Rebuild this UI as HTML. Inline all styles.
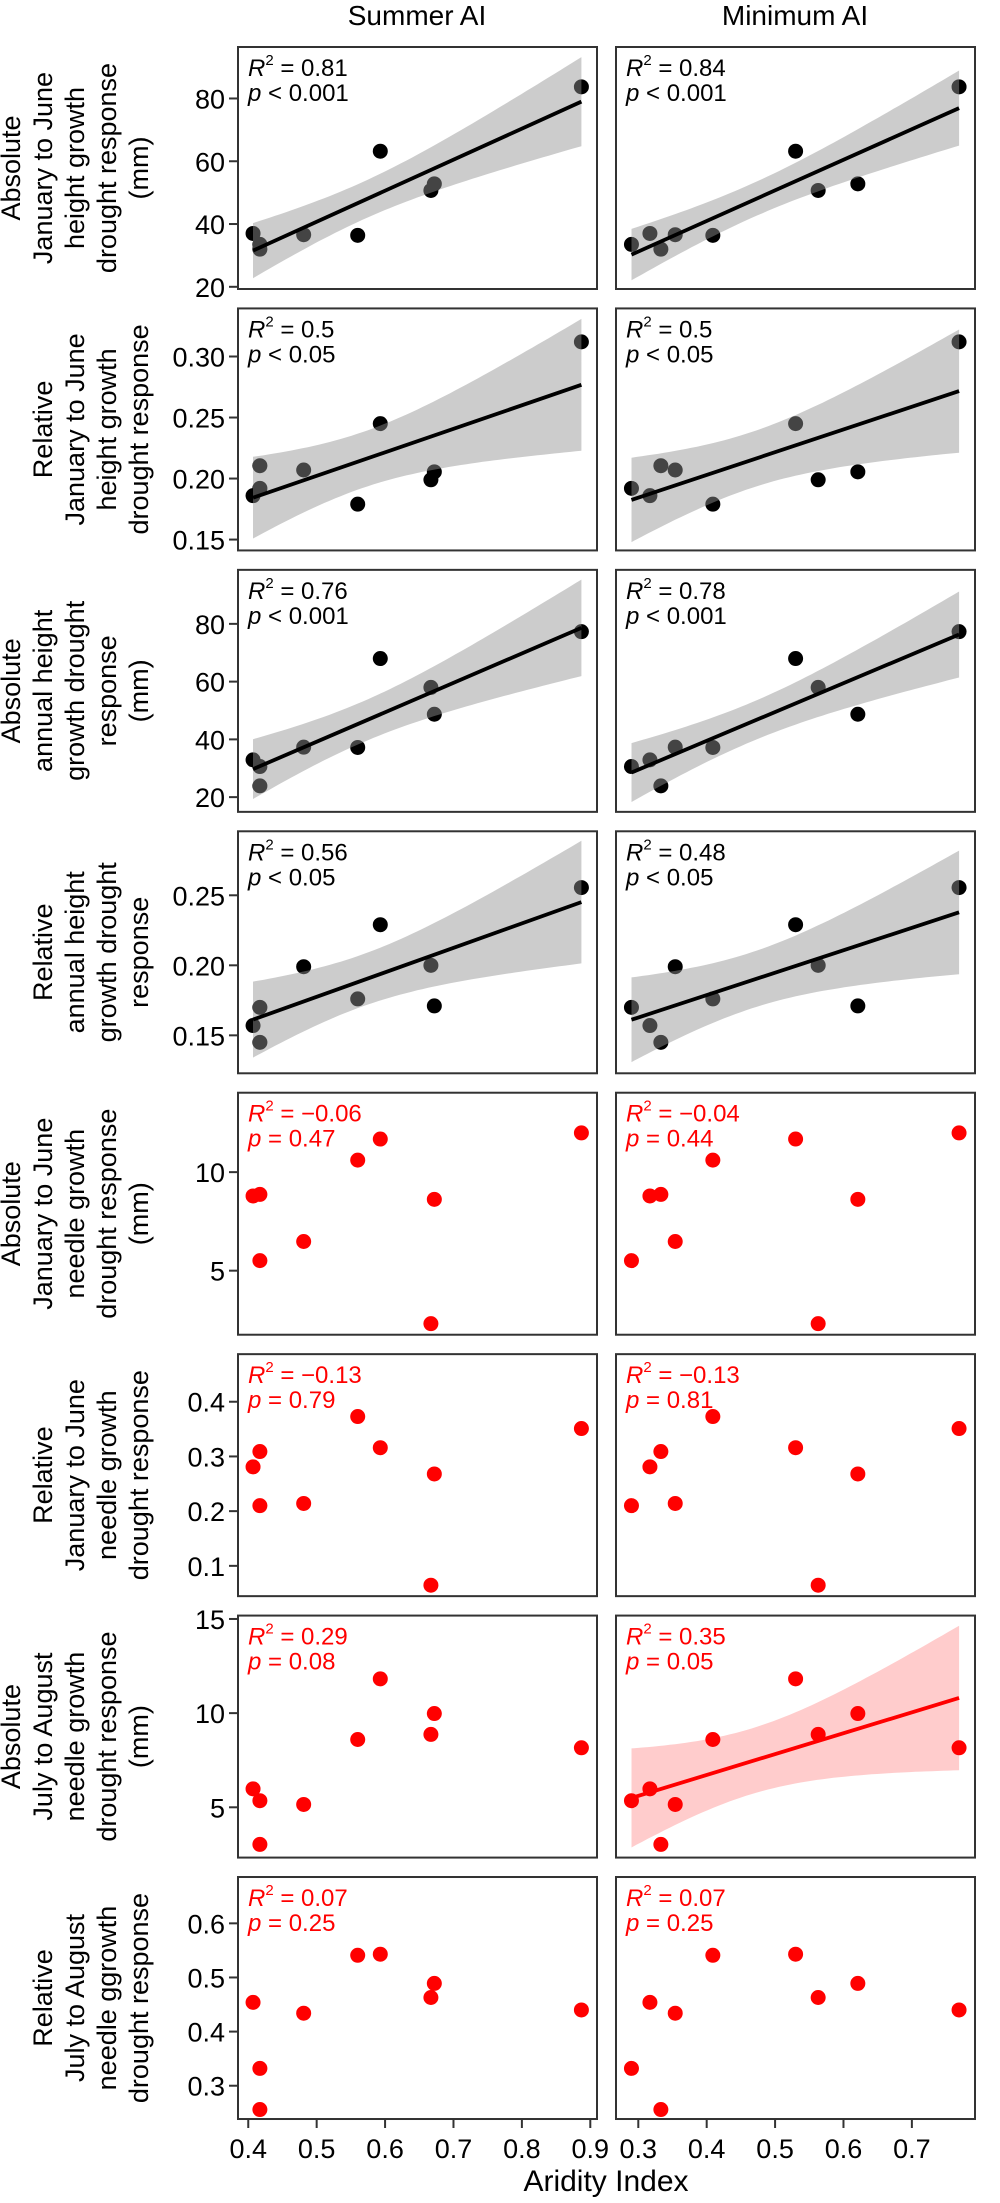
<!DOCTYPE html>
<html><head><meta charset="utf-8"><style>
html,body{margin:0;padding:0;background:#fff;}
svg{display:block;font-family:"Liberation Sans",Arial,sans-serif;}
</style></head><body>
<svg id="chart" width="1000" height="2203" viewBox="0 0 1000 2203" xmlns="http://www.w3.org/2000/svg">
<text x="417" y="25" font-size="28" text-anchor="middle">Summer AI</text>
<text x="795" y="25" font-size="28" text-anchor="middle">Minimum AI</text>
<text x="606" y="2191" font-size="30" text-anchor="middle">Aridity Index</text>
</svg>
<script>
// site aridity indices
const summerAI=[0.407,0.417,0.417,0.481,0.560,0.593,0.667,0.672,0.887];
const minimumAI=[0.317,0.290,0.333,0.354,0.409,0.530,0.563,0.621,0.769];
// responses per row
const absJanJunHeight=[37.0,33.5,32.0,36.6,36.4,63.2,50.7,52.8,83.7];
const relJanJunHeight=[0.186,0.192,0.2105,0.207,0.179,0.245,0.199,0.2055,0.312];
const absAnnualHeight=[32.9,30.6,23.9,37.3,37.2,68.0,58.0,48.7,77.3];
const relAnnualHeight=[0.157,0.170,0.145,0.199,0.176,0.229,0.200,0.171,0.2555];
const absJanJunNeedle=[8.79,5.51,8.87,6.48,10.61,11.68,2.31,8.62,11.99];
const relJanJunNeedle=[0.281,0.210,0.309,0.214,0.373,0.316,0.0646,0.268,0.351];
const absJulAugNeedle=[5.98,5.35,3.03,5.15,8.60,11.82,8.87,9.98,8.16];
const relJulAugNeedle=[0.454,0.332,0.256,0.434,0.541,0.543,0.463,0.489,0.440];
// axis ticks
const summerTicks=[0.4,0.5,0.6,0.7,0.8,0.9];
const minimumTicks=[0.3,0.4,0.5,0.6,0.7];
const rowTicks=[[20,40,60,80],[0.15,0.20,0.25,0.30],[20,40,60,80],[0.15,0.20,0.25],[5,10],[0.1,0.2,0.3,0.4],[5,10,15],[0.3,0.4,0.5,0.6]];
const rowTickDecimals=[0,2,0,2,0,1,0,1];
const rowDomains=[[19.3,96.4],[0.1411,0.3394],[14.9,98.7],[0.1229,0.2957],[1.75,14.03],[0.0446,0.487],[2.33,15.18],[0.2385,0.6856]];
const rowTitles=[["Absolute","January to June","height growth","drought response","(mm)"],["Relative","January to June","height growth","drought response"],["Absolute","annual height","growth drought","response","(mm)"],["Relative","annual height","growth drought","response"],["Absolute","January to June","needle growth","drought response","(mm)"],["Relative","January to June","needle growth","drought response"],["Absolute","July to August","needle growth","drought response","(mm)"],["Relative","July to August","needle ggrowth","drought response"]];
const statsR2=[["0.81","0.84"],["0.5","0.5"],["0.76","0.78"],["0.56","0.48"],["\u22120.06","\u22120.04"],["\u22120.13","\u22120.13"],["0.29","0.35"],["0.07","0.07"]];
const statsP=[["< 0.001","< 0.001"],["< 0.05","< 0.05"],["< 0.001","< 0.001"],["< 0.05","< 0.05"],["= 0.47","= 0.44"],["= 0.79","= 0.81"],["= 0.08","= 0.05"],["= 0.25","= 0.25"]];
const rowData=[absJanJunHeight,relJanJunHeight,absAnnualHeight,relAnnualHeight,absJanJunNeedle,relJanJunNeedle,absJulAugNeedle,relJulAugNeedle];
const fitFlags=[[true,true],[true,true],[true,true],[true,true],[false,false],[false,false],[false,true],[false,false]];

const svg=document.getElementById('chart');
const NS='http://www.w3.org/2000/svg';
function mk(tag,attrs,parent){const e=document.createElementNS(NS,tag);for(const k in attrs)e.setAttribute(k,attrs[k]);(parent||svg).appendChild(e);return e;}
const cols=[{x0:238,x1:597,d:[0.385,0.9098],xs:summerAI,ticks:summerTicks,name:'summer'},{x0:616,x1:975,d:[0.2674,0.7923],xs:minimumAI,ticks:minimumTicks,name:'minimum'}];
const PH=242;
function xScale(c,v){return c.x0+(v-c.d[0])/(c.d[1]-c.d[0])*(c.x1-c.x0);}
for(let r=0;r<8;r++){
  const top=47+r*261.43, bot=top+PH;
  const dom=rowDomains[r];
  const yS=v=>bot-(v-dom[0])/(dom[1]-dom[0])*PH;
  const red=r>=4;
  const col=red?'#ff0000':'#000';
  const lines=rowTitles[r];const cy=(top+bot)/2;
  lines.forEach((t,i)=>{const lx=139-(lines.length-1-i)*32;
    const tx=mk('text',{x:lx,y:cy,'font-size':27,'text-anchor':'middle','dominant-baseline':'central',transform:`rotate(-90 ${lx} ${cy})`});
    
    
    tx.textContent=t;});
  rowTicks[r].forEach(v=>{const y=yS(v);
    const tl=mk('line',{x1:229,x2:238,y1:y,y2:y,stroke:'#333','stroke-width':2});
    
    
    const tt=mk('text',{x:225,y:y+10,'font-size':27,'text-anchor':'end'});
    
    
    tt.textContent=v.toFixed(rowTickDecimals[r]);});
  cols.forEach((c,ci)=>{
    const g=mk('g',{});
    
    
    const ys=rowData[r];const xs=c.xs;
    let fit=null;
    if(fitFlags[r][ci]){
      const n=xs.length;const mx=xs.reduce((a,b)=>a+b)/n;const my=ys.reduce((a,b)=>a+b)/n;
      let sxx=0,sxy=0;for(let i=0;i<n;i++){sxx+=(xs[i]-mx)**2;sxy+=(xs[i]-mx)*(ys[i]-my);}
      const b=sxy/sxx,a=my-b*mx;let sse=0;for(let i=0;i<n;i++)sse+=(ys[i]-a-b*xs[i])**2;
      const s=Math.sqrt(sse/(n-2));const t=2.365;
      const lo=Math.min(...xs),hi=Math.max(...xs);const up=[],dn=[];
      for(let k=0;k<=60;k++){const x=lo+(hi-lo)*k/60;const yh=a+b*x;const se=s*Math.sqrt(1/n+(x-mx)**2/sxx);
        up.push([xScale(c,x),yS(yh+t*se)]);dn.push([xScale(c,x),yS(yh-t*se)]);}
      fit={a,b,lo,hi,up,dn};
    }
    const drawBand=()=>{const pts=fit.up.concat(fit.dn.reverse()).map(p=>p[0].toFixed(1)+','+p[1].toFixed(1)).join(' ');
      const bp=mk('polygon',{points:pts,fill:red?'#ff0000':'rgb(146,146,146)','fill-opacity':red?0.2:0.467},g);
      
      };
    if(fit&&red)drawBand();
    xs.forEach((x,i)=>{const p=mk('circle',{cx:xScale(c,x),cy:yS(ys[i]),r:7.5,fill:col},g);
      
      });
    if(fit&&!red)drawBand();
    if(fit){const l=mk('line',{x1:xScale(c,fit.lo),y1:yS(fit.a+fit.b*fit.lo),x2:xScale(c,fit.hi),y2:yS(fit.a+fit.b*fit.hi),stroke:col,'stroke-width':3.8},g);
      
      }
    const fr=mk('rect',{x:c.x0,y:top,width:c.x1-c.x0,height:PH,fill:'none',stroke:'#333','stroke-width':2},g);
    
    
    const t1=mk('text',{x:c.x0+10,y:top+29,'font-size':24,fill:col},g);
    
    
    t1.innerHTML='<tspan font-style="italic">R</tspan><tspan font-size="15" dy="-11">2</tspan><tspan dy="11"> = '+statsR2[r][ci]+'</tspan>';
    const t2=mk('text',{x:c.x0+10,y:top+54,'font-size':24,fill:col},g);
    
    
    t2.innerHTML='<tspan font-style="italic">p</tspan> '+statsP[r][ci].replace('<','&lt;');
    if(r===7){c.ticks.forEach(v=>{const x=xScale(c,v);
      const tl=mk('line',{x1:x,x2:x,y1:bot,y2:bot+9,stroke:'#333','stroke-width':2});
      
      
      const tt=mk('text',{x:x,y:bot+39,'font-size':27,'text-anchor':'middle'});
      
      
      tt.textContent=v.toFixed(1);});}
  });
}
</script>
</body></html>
